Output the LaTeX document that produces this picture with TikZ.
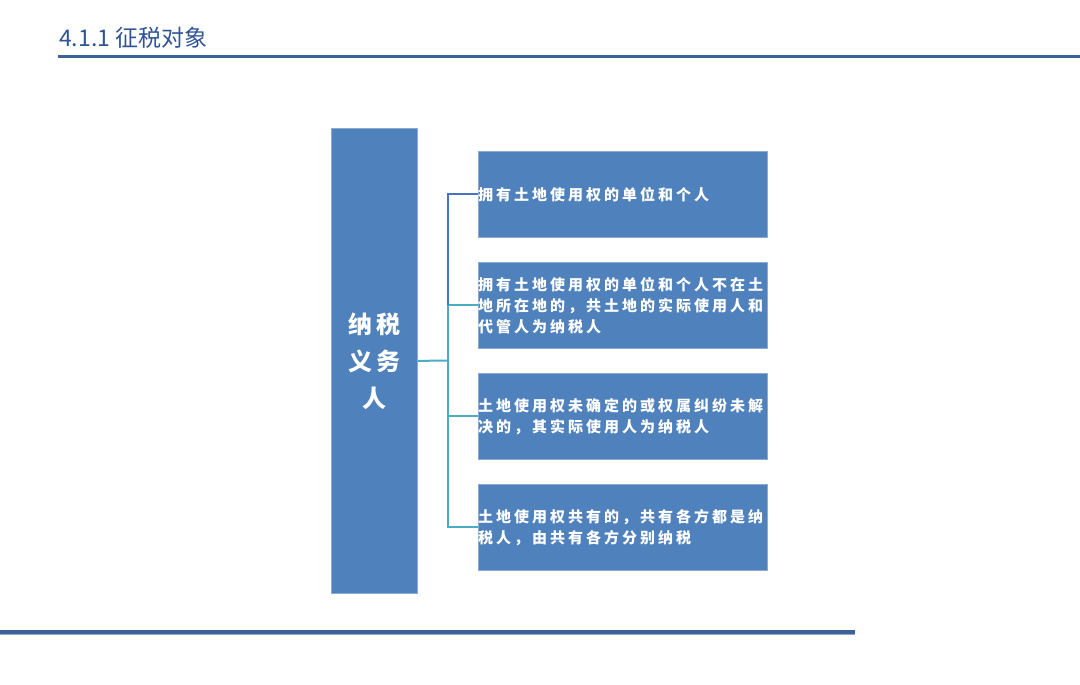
\documentclass[tikz,border=0pt]{standalone}
\usepackage{fontspec}
\newfontfamily\cjk{Noto Sans CJK SC}
\newfontfamily\cjkbox[LetterSpace=20]{Noto Sans CJK SC}
\definecolor{titleblue}{RGB}{47,84,150}
\definecolor{rulecol}{RGB}{58,98,150}
\definecolor{boxfill}{RGB}{79,129,189}
\definecolor{boxedge}{RGB}{140,170,210}
\definecolor{linkblue}{RGB}{68,114,196}
\definecolor{linkteal}{RGB}{75,172,198}
\tikzset{
  boxnode/.style={draw=boxedge, line width=0.8pt, fill=boxfill, inner sep=0pt, anchor=north west},
  boxtext/.style={text=white, anchor=west, inner sep=0pt, align=left, font=\cjkbox\bfseries\fontsize{15}{21}\selectfont},
  link/.style={line width=2pt},
}
\begin{document}
\begin{tikzpicture}[x=1pt,y=-1pt]
\useasboundingbox (0,0) rectangle (1080,685);
% title
\node[anchor=base west, inner sep=0pt, text=titleblue, font=\cjk\fontsize{23}{27}\selectfont] (title) at (59,47) {4.1.1 征税对象};
\fill[rulecol] (58,55) rectangle (1080,58.5);
% bottom rule
\fill[rulecol] (0,630) rectangle (855,633.5);
\fill[boxedge] (0,633.5) rectangle (855,634.5);
% left box
\node[boxnode, minimum width=86pt, minimum height=465pt] (L) at (331,128) {};
\node[text=white, inner sep=0pt, align=center, font=\cjkbox\bfseries\fontsize{24}{37}\selectfont] (Lt) at (L.center) {纳税\\义务\\人};
% right boxes
\node[boxnode, minimum width=289pt, minimum height=86pt] (b1) at (478,151) {};
\node[boxnode, minimum width=289pt, minimum height=86pt] (b2) at (478,262) {};
\node[boxnode, minimum width=289pt, minimum height=86pt] (b3) at (478,373) {};
\node[boxnode, minimum width=289pt, minimum height=86pt] (b4) at (478,484) {};
\node[boxtext] (t1) at (b1.west) {拥有土地使用权的单位和个人};
\node[boxtext] (t2) at (b2.west) {拥有土地使用权的单位和个人不在土\\地所在地的，共土地的实际使用人和\\代管人为纳税人};
\node[boxtext] (t3) at (b3.west) {土地使用权未确定的或权属纠纷未解\\决的，其实际使用人为纳税人};
\node[boxtext] (t4) at (b4.west) {土地使用权共有的，共有各方都是纳\\税人，由共有各方分别纳税};
% connectors
\coordinate (j) at (448,360.5);
\draw[link, linkteal] (L.east) -- (j);
\draw[link, linkteal] (j) |- (b2.west);
\draw[link, linkteal] (j) |- (b3.west);
\draw[link, linkteal] (j) |- (b4.west);
\draw[link, linkblue] (j |- b2.west) |- (b1.west);
\end{tikzpicture}
\end{document}
